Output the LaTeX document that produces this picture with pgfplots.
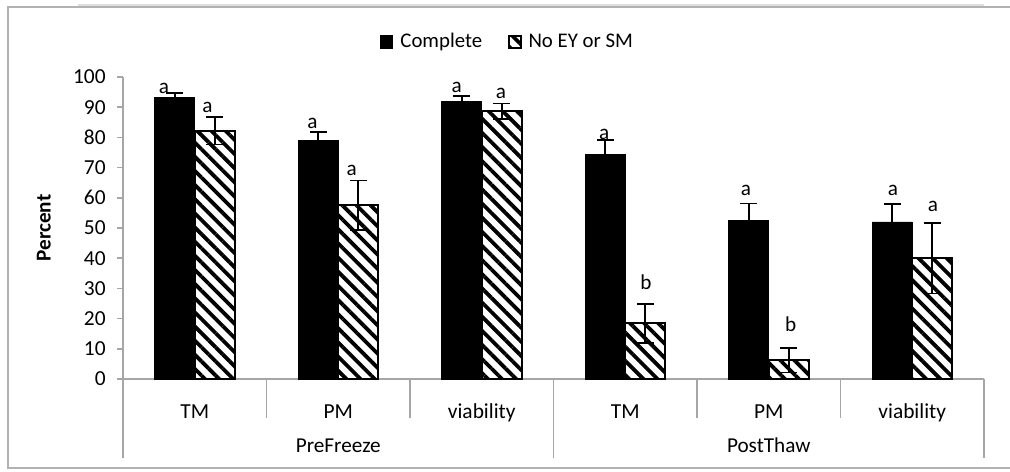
\documentclass[border=0pt]{standalone}
\usepackage{pgfplots}
\pgfplotsset{compat=1.18}
\usepackage{fontspec}
\setmainfont{Carlito}
\usetikzlibrary{patterns.meta}
\begin{document}
\begin{tikzpicture}
\useasboundingbox (0pt,0pt) rectangle (505pt,-235.5pt);
\draw[gray!25, line width=0.6pt] (39pt,-2.5pt) -- (492pt,-2.5pt);
\draw[gray!60, line width=1pt] (4pt,-3.5pt) rectangle (510pt,-234pt);
\begin{axis}[
  at={(61.5pt,-189.5pt)}, anchor=south west,
  width=430.5pt, height=151pt, scale only axis,
  xmin=-0.5, xmax=5.5, ymin=0, ymax=100,
  ybar=0pt, bar width=20pt,
  axis x line=bottom, axis y line=left,
  axis line style={-, draw=gray!70, line width=0.8pt},
  xtick={0,...,5},
  xticklabels={TM,PM,viability,TM,PM,viability},
  x tick style={draw=none},
  xticklabel style={anchor=base, yshift=-16.8pt},
  ytick={0,10,...,100},
  y tick style={draw=gray!70, line width=0.8pt},
  tick align=outside, major tick length=3pt,
  yticklabel style={anchor=east, inner sep=0pt, xshift=-5.5pt},
  /pgf/number format/assume math mode=true,
  tick label style={font=\fontsize{10.7}{12}\selectfont},
  ylabel={\textbf{Percent}},
  ylabel style={at={(axis description cs:-0.092,0.5)}, anchor=center, rotate=0, font=\fontsize{10.6}{12}\selectfont},
  clip=false,
  legend columns=2,
  legend style={draw=none, at={(0.4477,1.116)}, anchor=center,
    font=\fontsize{10.4}{12}\selectfont,
    /tikz/every odd column/.append style={column sep=1.5pt},
    /tikz/every even column/.append style={column sep=11pt}},
  legend image code/.code={\draw[#1, line width=0.7pt] (0pt,-3pt) rectangle (6pt,3pt);},
]
\addplot[fill=black, draw=black,
  error bars/.cd, y dir=both, y explicit,
  error bar style={black, line width=0.8pt},
  error mark options={black, rotate=90, mark size=4.2pt, line width=0.8pt}]
coordinates {
  (0,93.2) +- (0,1.5)
  (1,79.0) +- (0,2.8)
  (2,91.8) +- (0,2.0)
  (3,74.4) +- (0,4.7)
  (4,52.6) +- (0,5.5)
  (5,52.0) +- (0,6.0)
};
\addplot[pattern={Lines[angle=-45, distance=5pt, line width=1.9pt]}, draw=black, line width=1pt,
  error bars/.cd, y dir=both, y explicit,
  error bar style={black, line width=0.8pt},
  error mark options={black, rotate=90, mark size=4.2pt, line width=0.8pt}]
coordinates {
  (0,82.2) +- (0,4.5)
  (1,57.5) +- (0,8.2)
  (2,88.6) +- (0,2.6)
  (3,18.4) +- (0,6.5)
  (4,6.2) +- (0,4.0)
  (5,40.0) +- (0,11.7)
};
\legend{Complete, No EY or SM}
% letters
\begin{scope}[every node/.style={anchor=base, inner sep=0pt, font=\fontsize{10.6}{12}\selectfont}]
\node at (axis cs:-0.214,94.7) {a};
\node at (axis cs:0.089,88.1) {a};
\node at (axis cs:0.821,83.1) {a};
\node at (axis cs:1.094,67.5) {a};
\node at (axis cs:1.825,94.9) {a};
\node at (axis cs:2.133,92.9) {a};
\node at (axis cs:2.854,79.4) {a};
\node at (axis cs:3.145,29.8) {b};
\node at (axis cs:3.841,60.9) {a};
\node at (axis cs:4.153,15.6) {b};
\node at (axis cs:4.866,60.9) {a};
\node at (axis cs:5.145,55.3) {a};
\end{scope}
% category separators
\pgfplotsinvokeforeach{0.5,1.5,3.5,4.5}{\draw[gray!70, line width=0.8pt] (axis cs:#1,0) -- ++(0pt,-19.5pt);}
\pgfplotsinvokeforeach{-0.5,2.5,5.5}{\draw[gray!70, line width=0.8pt] (axis cs:#1,0) -- ++(0pt,-39.5pt);}
\node[anchor=base, font=\fontsize{10.6}{12}\selectfont] at ([yshift=-36.8pt]axis cs:1,0) {PreFreeze};
\node[anchor=base, font=\fontsize{10.6}{12}\selectfont] at ([yshift=-36.8pt]axis cs:4,0) {PostThaw};
\end{axis}
\end{tikzpicture}
\end{document}
